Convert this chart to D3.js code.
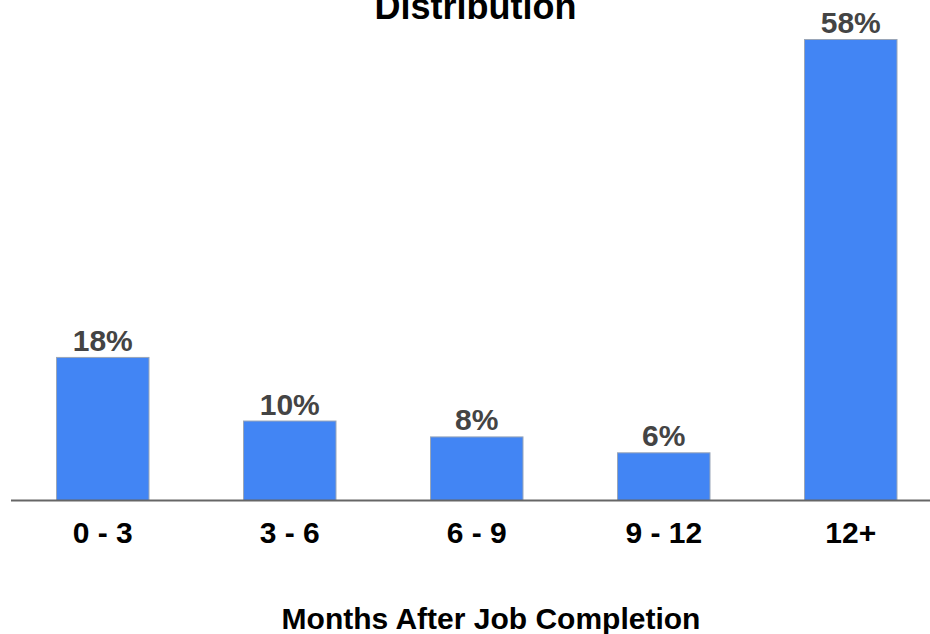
<!DOCTYPE html>
<html><head><meta charset="utf-8">
<script src="https://cdn.jsdelivr.net/npm/d3@7"></script>
<style>body{margin:0;background:#fff}svg{display:block}</style>
</head><body>
<script>
const categories = ["0 - 3", "3 - 6", "6 - 9", "9 - 12", "12+"];
const values = [18, 10, 8, 6, 58];
const valueLabels = ["18%", "10%", "8%", "6%", "58%"];
const chartTitle = "Distribution";
const xAxisTitle = "Months After Job Completion";

const W = 930, H = 634;
const baseY = 500;
const svg = d3.select("body").append("svg").attr("width", W).attr("height", H);

const x = d3.scaleBand().domain(categories).range([9.25, 944.25]).paddingInner(0.5).paddingOuter(0.25);
const y = d3.scaleLinear().domain([0, 58]).range([baseY, 39]);

svg.append("text").attr("x", 475.5).attr("y", 19).attr("text-anchor", "middle")
  .attr("font-family", "Liberation Sans, Arial, sans-serif").attr("font-weight", "bold")
  .attr("font-size", 36).attr("fill", "#000").text(chartTitle);

svg.selectAll("rect.bar").data(values).join("rect").attr("class", "bar")
  .attr("x", (d, i) => x(categories[i]) + 0.5)
  .attr("y", d => y(d) + 0.5)
  .attr("width", x.bandwidth() - 1)
  .attr("height", d => baseY - y(d))
  .attr("fill", "#4285f4").attr("stroke", "#9aa6b8").attr("stroke-width", 1);

svg.selectAll("text.val").data(values).join("text").attr("class", "val")
  .attr("x", (d, i) => x(categories[i]) + x.bandwidth() / 2)
  .attr("y", d => y(d) - 6)
  .attr("text-anchor", "middle")
  .attr("font-family", "Liberation Sans, Arial, sans-serif").attr("font-weight", "bold")
  .attr("font-size", 30).attr("fill", "#444")
  .text((d, i) => valueLabels[i]);

const axis = d3.axisBottom(x).tickSize(0).tickPadding(0);
const g = svg.append("g").attr("transform", `translate(0,${baseY})`).call(axis);
g.select(".domain").remove();
g.selectAll(".tick text").attr("dy", 0).attr("y", 43)
  .attr("font-family", "Liberation Sans, Arial, sans-serif").attr("font-weight", "bold")
  .attr("font-size", 30).attr("fill", "#000");

svg.append("line").attr("x1", 11).attr("x2", 930).attr("y1", baseY + 0.5).attr("y2", baseY + 0.5)
  .attr("stroke", "#666").attr("stroke-width", 2);

svg.append("text").attr("x", 491).attr("y", 629).attr("text-anchor", "middle")
  .attr("font-family", "Liberation Sans, Arial, sans-serif").attr("font-weight", "bold")
  .attr("font-size", 30).attr("fill", "#000").text(xAxisTitle);
</script>
</body></html>
